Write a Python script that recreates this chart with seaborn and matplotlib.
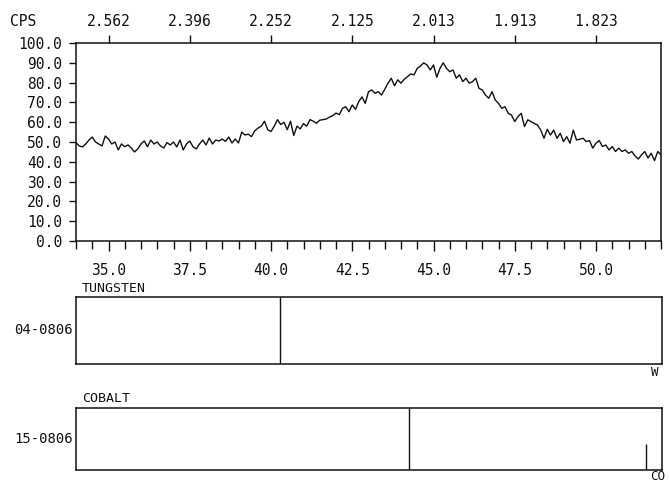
import matplotlib
matplotlib.use("Agg")
import matplotlib.pyplot as plt
import seaborn as sns
import pandas as pd
from matplotlib.ticker import MultipleLocator

# ---- data ----
two_theta = [
    34.0, 34.1, 34.2, 34.3, 34.4, 34.5, 34.6, 34.7, 34.8, 34.9,
    35.0, 35.1, 35.2, 35.3, 35.4, 35.5, 35.6, 35.7, 35.8, 35.9,
    36.0, 36.1, 36.2, 36.3, 36.4, 36.5, 36.6, 36.7, 36.8, 36.9,
    37.0, 37.1, 37.2, 37.3, 37.4, 37.5, 37.6, 37.7, 37.8, 37.9,
    38.0, 38.1, 38.2, 38.3, 38.4, 38.5, 38.6, 38.7, 38.8, 38.9,
    39.0, 39.1, 39.2, 39.3, 39.4, 39.5, 39.6, 39.7, 39.8, 39.9,
    40.0, 40.1, 40.2, 40.3, 40.4, 40.5, 40.6, 40.7, 40.8, 40.9,
    41.0, 41.1, 41.2, 41.3, 41.4, 41.5, 41.6, 41.7, 41.8, 41.9,
    42.0, 42.1, 42.2, 42.3, 42.4, 42.5, 42.6, 42.7, 42.8, 42.9,
    43.0, 43.1, 43.2, 43.3, 43.4, 43.5, 43.6, 43.7, 43.8, 43.9,
    44.0, 44.1, 44.2, 44.3, 44.4, 44.5, 44.6, 44.7, 44.8, 44.9,
    45.0, 45.1, 45.2, 45.3, 45.4, 45.5, 45.6, 45.7, 45.8, 45.9,
    46.0, 46.1, 46.2, 46.3, 46.4, 46.5, 46.6, 46.7, 46.8, 46.9,
    47.0, 47.1, 47.2, 47.3, 47.4, 47.5, 47.6, 47.7, 47.8, 47.9,
    48.0, 48.1, 48.2, 48.3, 48.4, 48.5, 48.6, 48.7, 48.8, 48.9,
    49.0, 49.1, 49.2, 49.3, 49.4, 49.5, 49.6, 49.7, 49.8, 49.9,
    50.0, 50.1, 50.2, 50.3, 50.4, 50.5, 50.6, 50.7, 50.8, 50.9,
    51.0, 51.1, 51.2, 51.3, 51.4, 51.5, 51.6, 51.7, 51.8, 51.9,
    52.0,
]
cps = [
    49.7, 48.0, 47.5, 49.0, 51.0, 52.5, 50.0, 49.0, 48.0, 53.0,
    51.5, 49.0, 50.0, 46.0, 49.0, 47.6, 48.5, 47.0, 45.0, 46.5,
    49.0, 50.5, 47.6, 51.0, 49.0, 50.0, 48.0, 47.0, 49.7, 48.5,
    50.0, 47.5, 51.0, 46.0, 49.0, 50.5, 47.6, 46.5, 49.0, 51.0,
    48.5, 52.0, 49.0, 51.0, 50.5, 51.5, 50.3, 52.5, 49.5, 51.5,
    49.5, 55.0, 53.5, 54.0, 52.7, 55.7, 57.0, 58.0, 60.5, 56.2,
    55.3, 58.0, 61.3, 58.8, 60.0, 56.2, 60.5, 53.3, 58.0, 56.6,
    59.3, 58.0, 61.3, 60.5, 59.5, 61.0, 61.3, 61.6, 62.6, 63.3,
    64.6, 63.8, 67.0, 67.8, 65.3, 68.7, 66.5, 70.4, 72.8, 69.5,
    75.4, 76.3, 74.6, 75.4, 73.7, 76.6, 79.7, 82.2, 78.4, 81.4,
    79.7, 81.7, 83.0, 84.4, 83.9, 87.2, 88.4, 90.0, 88.9, 86.4,
    88.9, 82.7, 87.2, 90.0, 87.2, 85.5, 86.4, 82.2, 83.9, 80.5,
    82.2, 79.7, 80.5, 82.2, 77.1, 76.3, 73.7, 72.1, 75.4, 71.2,
    69.5, 67.0, 67.8, 64.5, 63.6, 60.3, 62.9, 64.5, 57.8, 61.2,
    60.3, 59.4, 58.6, 56.0, 51.9, 56.4, 53.5, 56.0, 51.9, 54.4,
    50.2, 52.7, 49.4, 56.0, 51.0, 51.4, 51.9, 50.2, 50.7, 46.9,
    49.4, 50.7, 47.7, 48.5, 46.0, 47.7, 45.2, 46.9, 45.2, 46.0,
    44.3, 45.2, 43.0, 41.4, 43.5, 45.2, 41.9, 44.3, 40.6, 45.2,
    43.5,
]

x_ticks = [35.0, 37.5, 40.0, 42.5, 45.0, 47.5, 50.0]
x_tick_labels = ["35.0", "37.5", "40.0", "42.5", "45.0", "47.5", "50.0"]
d_tick_labels = ["2.562", "2.396", "2.252", "2.125", "2.013", "1.913", "1.823"]
y_ticks = [0, 10, 20, 30, 40, 50, 60, 70, 80, 90, 100]
y_tick_labels = ["0.0", "10.0", "20.0", "30.0", "40.0", "50.0",
                 "60.0", "70.0", "80.0", "90.0", "100.0"]

tungsten_pos = [40.26]
tungsten_int = [100]
cobalt_pos = [44.22, 51.52]
cobalt_int = [100, 42]

# ---- style ----
sns.set_style("ticks")
plt.rcParams["font.family"] = ["DejaVu Sans Mono", "DejaVu Sans"]
FS = 10.5
INK = "#111111"

W, H = 670, 483
fig = plt.figure(figsize=(W / 100, H / 100), dpi=100)


def fax(x0, y0, x1, y1):
    return fig.add_axes([x0 / W, 1 - y1 / H, (x1 - x0) / W, (y1 - y0) / H])


ax = fax(76, 43, 661, 241)
df = pd.DataFrame({"two_theta": two_theta, "cps": cps})
sns.lineplot(data=df, x="two_theta", y="cps", ax=ax, color=INK, linewidth=1.0)
ax.set_xlim(34.0, 52.0)
ax.set_ylim(0, 100)
ax.set_xlabel("")
ax.set_ylabel("")
for s in ax.spines.values():
    s.set_color(INK)
    s.set_linewidth(1.1)
ax.set_yticks(y_ticks)
ax.set_yticklabels(y_tick_labels, fontsize=FS, color=INK)
ax.set_xticks(x_ticks)
ax.set_xticklabels(x_tick_labels, fontsize=FS, color=INK)
ax.xaxis.set_minor_locator(MultipleLocator(0.5))
ax.tick_params(axis="y", direction="out", length=5, width=1.0, pad=5, colors=INK)
ax.tick_params(axis="x", which="major", direction="out", length=7.5, width=1.0,
               pad=8, colors=INK)
ax.tick_params(axis="x", which="minor", direction="out", length=5.5, width=1.0,
               colors=INK)

top = ax.secondary_xaxis("top")
top.set_xticks(x_ticks)
top.set_xticklabels(d_tick_labels, fontsize=FS, color=INK)
top.tick_params(axis="x", direction="out", length=6, width=1.0, pad=4, colors=INK)
top.spines["top"].set_visible(False)

fig.text(10 / W, 1 - 22 / H, "CPS", fontsize=FS, color=INK,
         ha="left", va="center")


def stick_panel(y0, y1, pos, inten, code, name, elem, elem_x, elem_y):
    pax = fax(76, y0, 662, y1)
    pax.vlines(pos, 0, inten, color=INK, linewidth=1.0)
    pax.set_xlim(34.0, 52.0)
    pax.set_ylim(0, 100)
    pax.set_xticks([])
    pax.set_yticks([])
    for s in pax.spines.values():
        s.set_color(INK)
        s.set_linewidth(1.1)
    fig.text(73 / W, 1 - ((y0 + y1) / 2) / H, code, fontsize=FS - 0.5, color=INK,
             ha="right", va="center")
    fig.text(82 / W, 1 - (y0 - 9) / H, name, fontsize=FS - 1, color=INK,
             ha="left", va="center")
    fig.text(elem_x / W, 1 - elem_y / H, elem, fontsize=FS - 1.5, color=INK,
             ha="left", va="center")
    return pax


stick_panel(297, 364, tungsten_pos, tungsten_int, "04-0806", "TUNGSTEN", "W", 651, 373)
stick_panel(408, 470, cobalt_pos, cobalt_int, "15-0806", "COBALT", "CO", 650, 476)

fig.savefig("out.png", dpi=100, facecolor="white")
